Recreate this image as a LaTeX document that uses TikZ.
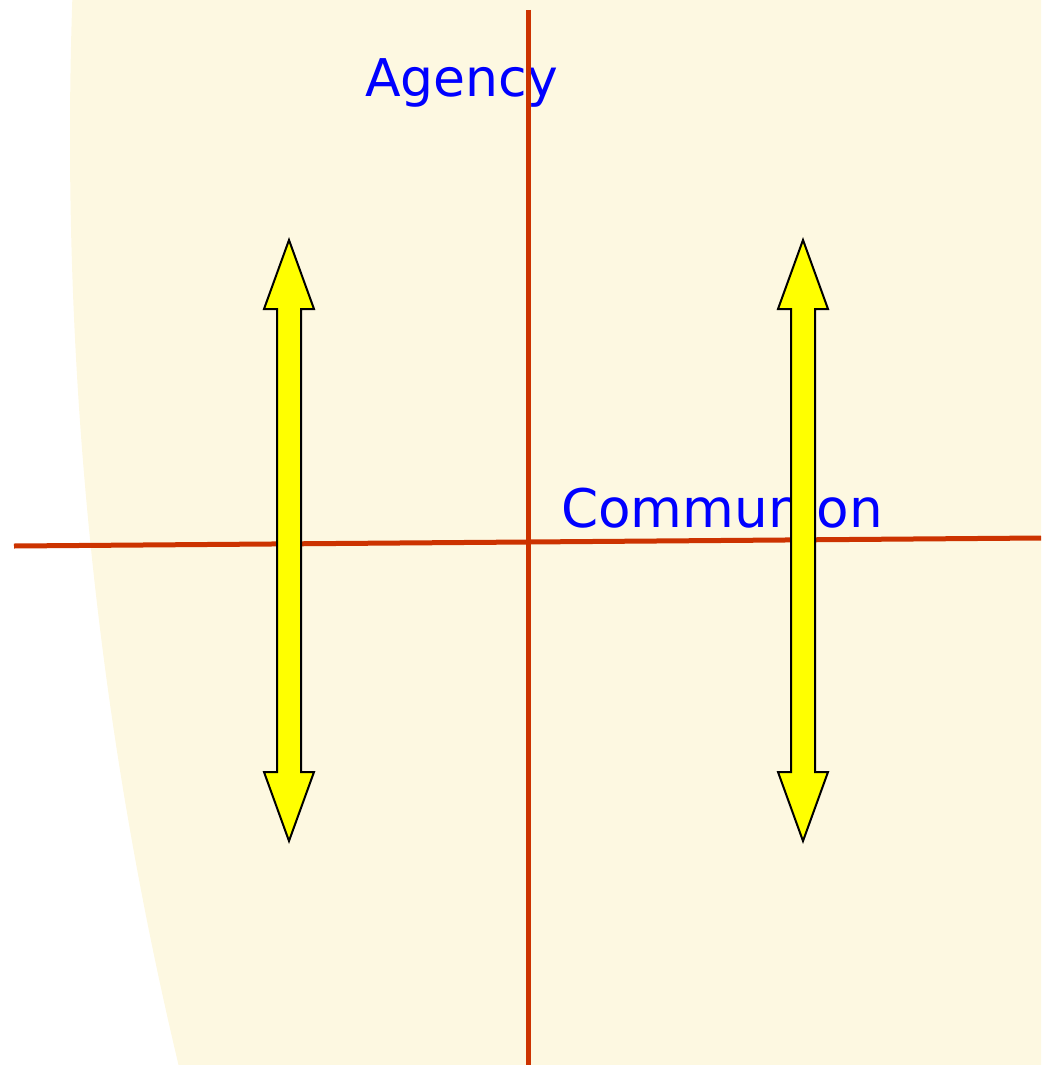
\documentclass[tikz,border=0pt]{standalone}
\usepackage{fontspec}
\setmainfont{DejaVu Sans}
\definecolor{cream}{HTML}{FDF8E1}
\definecolor{axisred}{HTML}{CC3300}
\definecolor{lblblue}{HTML}{0000FF}
\definecolor{arrowyellow}{HTML}{FFFF00}
\tikzset{
  axis/.style={draw=axisred, line width=5pt},
  lbl/.style={text=lblblue, font=\fontsize{52}{60}\selectfont, inner sep=0pt, anchor=base west},
  dblarrow/.style={draw=black, fill=arrowyellow, line width=2pt, line join=miter},
}
\begin{document}
\begin{tikzpicture}[x=1pt,y=-1pt]
\useasboundingbox (0,0) rectangle (1041,1065);
\begin{scope}
\clip (0,0) rectangle (1041,1065);
\fill[cream] (4058,137) circle[radius=3988];
\end{scope}
% labels
\node[lbl] (agency) at (365,96) {Agency};
\node[lbl, font=\fontsize{53.2}{60}\selectfont] (communion) at (561,527) {Communion};
% axes
\coordinate (vtop) at (528,10);
\coordinate (vbot) at (528,1065);
\coordinate (hleft) at (14,546);
\coordinate (hright) at (1041,538);
\draw[axis] (vtop) -- (vbot);
\draw[axis] (hleft) -- (hright);
% double arrows
\foreach \cx/\nm in {289/la, 803/ra}{
  \draw[dblarrow] (\cx,240) -- (\cx+25,309) -- (\cx+12,309) -- (\cx+12,772) -- (\cx+25,772)
    -- (\cx,841) -- (\cx-25,772) -- (\cx-12,772) -- (\cx-12,309) -- (\cx-25,309) -- cycle;
}
\end{tikzpicture}
\end{document}
